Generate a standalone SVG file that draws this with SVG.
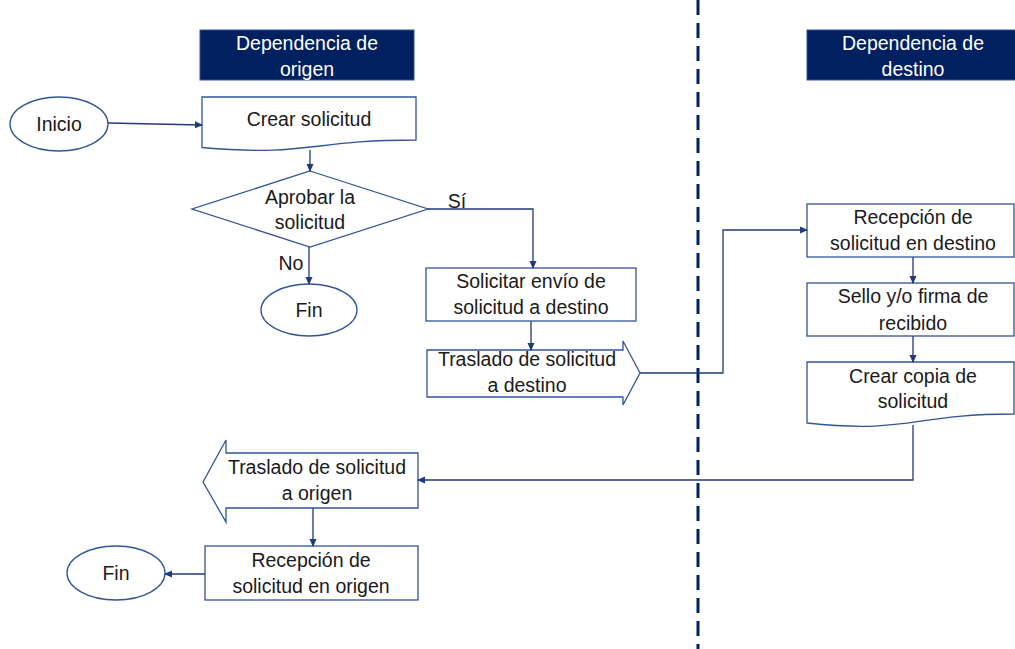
<svg xmlns="http://www.w3.org/2000/svg" width="1015" height="649" viewBox="0 0 1015 649">
<style>
.sh{fill:#fff;stroke:#2f5597;stroke-width:1.3}
.hd{fill:#002060;stroke:#2f5597;stroke-width:1}
.t{font-family:"Liberation Sans",Arial,sans-serif;font-size:19.5px;fill:#1a1a1a;text-anchor:middle}
.th{font-family:"Liberation Sans",Arial,sans-serif;font-size:19.5px;fill:#fff;text-anchor:middle}
.c{fill:none;stroke:#1f3a7a;stroke-width:1.3}
</style>
<defs>
<marker id="a" markerWidth="8" markerHeight="8" refX="7" refY="4" orient="auto" markerUnits="userSpaceOnUse">
<path d="M0,0.5 L8,4 L0,7.5 Z" fill="#1f3a7a"/>
</marker>
</defs>
<line x1="698" y1="0" x2="698" y2="649" stroke="#002060" stroke-width="3" stroke-dasharray="15,8"/>
<g id="hdr-origen"><rect class="hd" x="200" y="30" width="214" height="50"/><text class="th" x="307" y="50">Dependencia de</text><text class="th" x="307" y="76">origen</text></g>
<g id="hdr-destino"><rect class="hd" x="807" y="30" width="210" height="50"/><text class="th" x="913" y="50">Dependencia de</text><text class="th" x="913" y="76">destino</text></g>
<g id="inicio"><ellipse class="sh" cx="59" cy="124" rx="49" ry="27"/><text class="t" x="59" y="131">Inicio</text></g>
<g id="crear"><path class="sh" d="M202,97 H416 V140 C309,140 309,157 202,147.5 Z"/><text class="t" x="309" y="126">Crear solicitud</text></g>
<g id="aprobar"><path class="sh" d="M310,171 L428,209 L310,247 L192,209 Z"/><text class="t" x="310" y="204">Aprobar la</text><text class="t" x="310" y="229">solicitud</text></g>
<g id="fin1"><ellipse class="sh" cx="309" cy="310" rx="48" ry="26"/><text class="t" x="309" y="317">Fin</text></g>
<g id="solicitar"><rect class="sh" x="426" y="268" width="210" height="53"/><text class="t" x="531" y="288">Solicitar envío de</text><text class="t" x="531" y="314">solicitud a destino</text></g>
<g id="traslado-destino"><path class="sh" d="M427,350 H623 V341 L640,373 L623,405 V397 H427 Z"/><text class="t" x="527" y="366">Traslado de solicitud</text><text class="t" x="527" y="392">a destino</text></g>
<g id="recepcion-destino"><rect class="sh" x="807" y="204" width="207" height="53"/><text class="t" x="913" y="224">Recepción de</text><text class="t" x="913" y="250">solicitud en destino</text></g>
<g id="sello"><rect class="sh" x="807" y="283" width="207" height="53"/><text class="t" x="913" y="303">Sello y/o firma de</text><text class="t" x="913" y="330">recibido</text></g>
<g id="copia"><path class="sh" d="M807,362 H1014 V414 C910,414 910,434 807,423 Z"/><text class="t" x="913" y="383">Crear copia de</text><text class="t" x="913" y="408">solicitud</text></g>
<g id="traslado-origen"><path class="sh" d="M418,453 H226 V440 L203,482 L226,522 V508 H418 Z"/><text class="t" x="317" y="474">Traslado de solicitud</text><text class="t" x="317" y="500">a origen</text></g>
<g id="recepcion-origen"><rect class="sh" x="205" y="546" width="213" height="54"/><text class="t" x="311" y="567">Recepción de</text><text class="t" x="311" y="593">solicitud en origen</text></g>
<g id="fin2"><ellipse class="sh" cx="116" cy="573" rx="49" ry="27"/><text class="t" x="116" y="580">Fin</text></g>
<g id="connectors">
<path class="c" d="M108,123 L202,125" marker-end="url(#a)"/>
<path class="c" d="M310,150 V171" marker-end="url(#a)"/>
<path class="c" d="M428,209 H533 V268" marker-end="url(#a)"/>
<path class="c" d="M309,247 V284" marker-end="url(#a)"/>
<path class="c" d="M531,321 V350" marker-end="url(#a)"/>
<path class="c" d="M640,373 H723 V230 H807" marker-end="url(#a)"/>
<path class="c" d="M913,257 V283" marker-end="url(#a)"/>
<path class="c" d="M913,336 V362" marker-end="url(#a)"/>
<path class="c" d="M913,425 V480 H418" marker-end="url(#a)"/>
<path class="c" d="M313,508 V546" marker-end="url(#a)"/>
<path class="c" d="M205,574 H165" marker-end="url(#a)"/>
</g>
<g id="labels"><text class="t" x="457" y="208">Sí</text><text class="t" x="291" y="270">No</text></g>
</svg>
